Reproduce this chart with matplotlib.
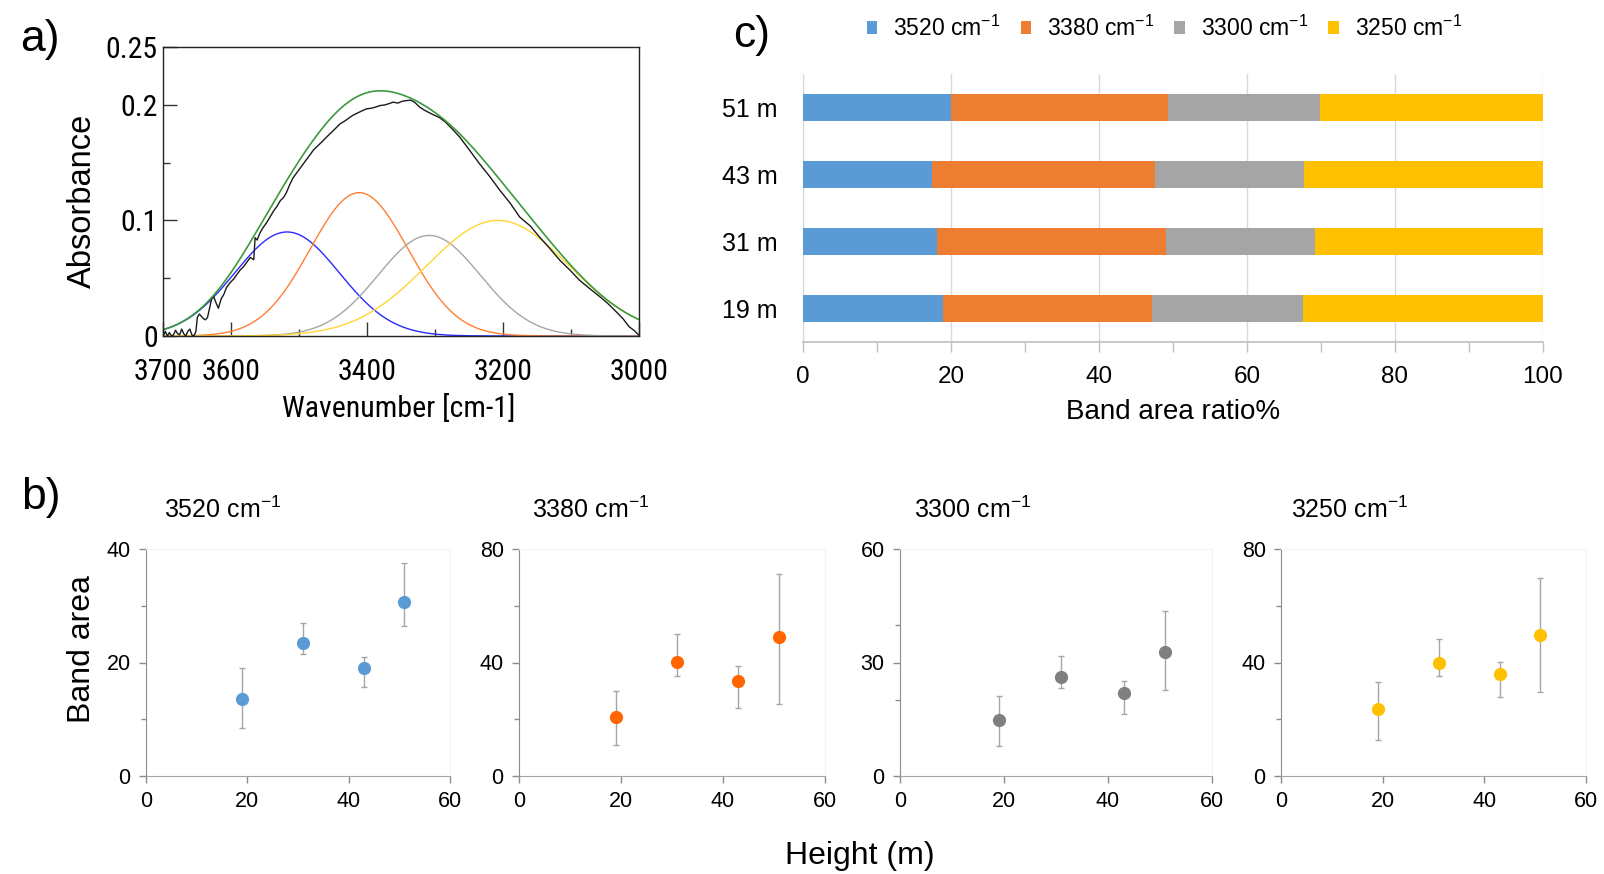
import numpy as np
import matplotlib
matplotlib.use("Agg")
import matplotlib.pyplot as plt
from matplotlib.ticker import FixedLocator
from matplotlib import font_manager

plt.rcParams['font.family'] = ['Liberation Sans', 'DejaVu Sans']
plt.rcParams['mathtext.fontset'] = 'custom'
plt.rcParams['mathtext.rm'] = 'Liberation Sans'
plt.rcParams['mathtext.default'] = 'regular'

# pick a narrow font for panel a if one is installed
_names = {f.name for f in font_manager.fontManager.ttflist}
NARROW, NSTRETCH = ['Liberation Sans'], 'normal'
for cand in ['Liberation Sans Narrow', 'Arial Narrow', 'Roboto Condensed', 'Open Sans Condensed']:
    if cand in _names:
        NARROW, NSTRETCH = [cand], 'normal'
        break
else:
    if any(f.name == 'DejaVu Sans' and str(f.stretch) in ('condensed', 'semi-condensed', '500', '400')
           and 'Condensed' in f.fname for f in font_manager.fontManager.ttflist):
        NARROW, NSTRETCH = ['DejaVu Sans'], 'condensed'

# ---------------- data ----------------
# panel a: measured spectrum (read from picture)
spec_wn = [3700, 3697, 3694, 3691, 3688, 3685, 3682, 3679, 3676, 3673, 3670, 3667, 3664, 3661,
           3658, 3655, 3652, 3650, 3647, 3644, 3641, 3638, 3635, 3632, 3629, 3626, 3622, 3619,
           3615, 3611, 3607, 3602, 3597, 3592, 3587, 3582, 3577, 3572, 3567, 3565, 3562, 3558,
           3553, 3548, 3543, 3538, 3533, 3528, 3523, 3519, 3514, 3509, 3504, 3499, 3494, 3489,
           3484, 3479, 3472, 3465, 3460, 3453, 3446, 3440, 3433, 3426, 3421, 3414, 3407, 3401,
           3394, 3388, 3381, 3375, 3368, 3362, 3355, 3349, 3342, 3336, 3330, 3323, 3315, 3305,
           3294, 3285, 3275, 3264, 3250, 3235, 3220, 3205, 3190, 3176, 3160, 3147, 3132, 3117,
           3102, 3088, 3073, 3058, 3046, 3034, 3024, 3015, 3008, 3001, 3000]
spec_abs = [0.000, 0.004, 0.000, 0.003, 0.000, 0.001, 0.005, 0.002, 0.001, 0.006, 0.002, 0.000,
            0.004, 0.006, 0.001, 0.000, 0.004, 0.016, 0.019, 0.017, 0.015, 0.014, 0.016, 0.024,
            0.032, 0.034, 0.028, 0.024, 0.032, 0.036, 0.042, 0.046, 0.049, 0.053, 0.057, 0.060,
            0.064, 0.068, 0.066, 0.085, 0.083, 0.089, 0.094, 0.098, 0.103, 0.108, 0.112, 0.117,
            0.120, 0.124, 0.131, 0.137, 0.141, 0.145, 0.149, 0.153, 0.157, 0.161, 0.165, 0.169,
            0.172, 0.176, 0.180, 0.1836, 0.186, 0.189, 0.191, 0.193, 0.195, 0.1965, 0.197, 0.198,
            0.1994, 0.1998, 0.2010, 0.2023, 0.2015, 0.2030, 0.2037, 0.2040, 0.2020, 0.1980, 0.1950,
            0.1920, 0.1890, 0.1850, 0.1790, 0.1720, 0.1610, 0.1490, 0.1380, 0.1260, 0.1150, 0.1030,
            0.0950, 0.0858, 0.0760, 0.0656, 0.0570, 0.0483, 0.0410, 0.0340, 0.0280, 0.0210, 0.0150,
            0.0080, 0.0050, 0.0010, 0.0000]
# fitted band parameters (Gaussian components)
band_names = ['3520', '3380', '3300', '3250']
band_center = [3518, 3412, 3309, 3208]
band_height = [0.090, 0.124, 0.087, 0.100]
band_sigma = [77, 72, 75, 105]
band_line_colors = ['#2a2aff', '#ff7f33', '#a6a6a6', '#ffd633']

# panel b: band area vs height
heights = [19, 31, 43, 51]
area_val = {
    '3520': [13.5, 23.4, 19.1, 30.7],
    '3380': [20.7, 40.2, 33.6, 49.1],
    '3300': [14.8, 26.2, 22.0, 32.9],
    '3250': [23.7, 39.9, 35.8, 49.8],
}
area_top = {
    '3520': [19.0, 26.9, 20.9, 37.5],
    '3380': [29.8, 49.9, 38.8, 71.2],
    '3300': [21.1, 31.6, 25.2, 43.6],
    '3250': [33.3, 48.2, 40.3, 69.7],
}
area_bottom = {
    '3520': [8.4, 21.5, 15.7, 26.4],
    '3380': [11.0, 35.3, 24.1, 25.4],
    '3300': [8.0, 23.2, 16.4, 22.8],
    '3250': [12.7, 35.4, 27.7, 29.6],
}
b_ylims = [40, 80, 60, 80]
b_major = [[0, 20, 40], [0, 40, 80], [0, 30, 60], [0, 40, 80]]
b_minor = [[10, 30], [20, 60], [20, 40], [20, 60]]
b_marker_colors = ['#5b9bd5', '#ff6600', '#7f7f7f', '#ffc000']

# panel c: band area ratio
c_categories = ['19 m', '31 m', '43 m', '51 m']
ratio = {
    '3520': [18.9, 18.1, 17.4, 20.0],
    '3380': [28.3, 31.0, 30.2, 29.3],
    '3300': [20.3, 20.1, 20.1, 20.6],
    '3250': [32.5, 30.8, 32.3, 30.1],
}
c_colors = ['#5b9bd5', '#ed7d31', '#a5a5a5', '#ffc000']

# ---------------- figure ----------------
W, H = 1604, 874
fig = plt.figure(figsize=(W / 100, H / 100), dpi=100)


def box(l, t, r, b):
    return [l / W, 1 - b / H, (r - l) / W, (b - t) / H]


# ---- panel a ----
axa = fig.add_axes(box(163.3, 47, 639.3, 336))
wn = np.linspace(3700, 3000, 701)
total = np.zeros_like(wn)
for c, h, s, col in zip(band_center, band_height, band_sigma, band_line_colors):
    comp = h * np.exp(-(wn - c) ** 2 / (2 * s ** 2))
    total += comp
    axa.plot(wn, comp, color=col, lw=1.0)
axa.plot(spec_wn, spec_abs, color='#1a1a1a', lw=1.0)
axa.plot(wn, total, color='#3c9a3c', lw=1.2)
axa.set_xlim(3700, 3000)
axa.set_ylim(0, 0.25)
axa.xaxis.set_major_locator(FixedLocator([3700, 3600, 3400, 3200, 3000]))
axa.xaxis.set_minor_locator(FixedLocator([3500, 3300, 3100]))
axa.yaxis.set_major_locator(FixedLocator([0, 0.1, 0.2, 0.25]))
axa.yaxis.set_minor_locator(FixedLocator([0.05, 0.15]))
axa.set_yticklabels(['0', '0.1', '0.2', '0.25'])
axa.tick_params(which='major', direction='in', length=10, width=1, color='#333333')
axa.tick_params(which='minor', direction='in', length=5, width=1, color='#333333')
axa.tick_params(axis='x', which='both', pad=16)
axa.tick_params(axis='y', which='both', pad=4)
for lab in axa.get_xticklabels() + axa.get_yticklabels():
    lab.set_family(NARROW)
    lab.set_stretch(NSTRETCH)
    lab.set_fontsize(21.5)
for sp in axa.spines.values():
    sp.set_color('#222222')
    sp.set_linewidth(1)
fig.text(399 / W, 1 - 408 / H, 'Wavenumber [cm-1]', family=NARROW, stretch=NSTRETCH,
         fontsize=21.5, ha='center', va='center')
fig.text(82 / W, 1 - 201 / H, 'Absorbance', fontsize=23.5, rotation=90,
         ha='center', va='center')
fig.text(40 / W, 1 - 40 / H, 'a)', fontsize=32, ha='center', va='center')

# ---- panel c ----
axc = fig.add_axes(box(803, 74, 1543, 342))
ypos = np.arange(len(c_categories))
left = np.zeros(len(c_categories))
handles = []
for name, col in zip(band_names, c_colors):
    vals = np.array(ratio[name])
    bc = axc.barh(ypos, vals, left=left, height=0.39, color=col, edgecolor='none',
                  label=name + ' cm$^{-1}$', zorder=3)
    handles.append(bc)
    left += vals
axc.set_xlim(0, 100)
axc.set_ylim(-0.5, 3.5)
axc.set_yticks(ypos)
axc.set_yticklabels(c_categories, fontsize=18)
axc.xaxis.set_major_locator(FixedLocator([0, 20, 40, 60, 80, 100]))
axc.xaxis.set_minor_locator(FixedLocator([10, 30, 50, 70, 90]))
axc.tick_params(axis='y', length=0, pad=18)
axc.tick_params(axis='x', which='both', length=7, width=1, color='#bfbfbf', pad=10,
                labelsize=17.5)
axc.grid(axis='x', which='major', color='#d9d9d9', lw=1, zorder=0)
for s in ['top', 'right']:
    axc.spines[s].set_visible(False)
axc.spines['left'].set_color('#d9d9d9')
axc.spines['bottom'].set_color('#bfbfbf')
axc.spines['bottom'].set_linewidth(1.2)
axc.set_xlabel('Band area ratio%', fontsize=20, labelpad=8)
leg = fig.legend(handles=handles, loc='center', bbox_to_anchor=(1164.5 / W, 1 - 28 / H),
                 ncol=4, frameon=False, fontsize=16.5, handlelength=0.45, handleheight=0.45,
                 handletextpad=0.7, columnspacing=0.87, borderpad=0)
fig.text(752 / W, 1 - 36 / H, 'c)', fontsize=32, ha='center', va='center')

# ---- panel b ----
b_lefts = [(146, 450), (519, 825), (900, 1212), (1281, 1586)]
title_x = [164, 532, 913.5, 1291]
for i, name in enumerate(band_names):
    l, r = b_lefts[i]
    ax = fig.add_axes(box(l, 549, r, 776))
    v = np.array(area_val[name])
    lo = v - np.array(area_bottom[name])
    hi = np.array(area_top[name]) - v
    ax.errorbar(heights, v, yerr=[lo, hi], fmt='none', ecolor='#a6a6a6', elinewidth=1,
                capsize=2.5, capthick=1, zorder=2)
    ax.plot(heights, v, 'o', color=b_marker_colors[i], markersize=9.5, mew=0, zorder=3)
    ax.set_xlim(0, 60)
    ax.set_ylim(0, b_ylims[i])
    ax.xaxis.set_major_locator(FixedLocator([0, 20, 40, 60]))
    ax.yaxis.set_major_locator(FixedLocator(b_major[i]))
    ax.yaxis.set_minor_locator(FixedLocator(b_minor[i]))
    ax.tick_params(which='major', direction='out', length=5, width=1, color='#8c8c8c',
                   labelsize=15.5, pad=6)
    ax.tick_params(which='minor', direction='out', length=3.5, width=1, color='#8c8c8c')
    for s in ['top', 'right']:
        ax.spines[s].set_color('#f2f2f2')
    ax.spines['left'].set_color('#8c8c8c')
    ax.spines['bottom'].set_color('#a6a6a6')
    fig.text(title_x[i] / W, 1 - 510 / H, name + ' cm$^{-1}$', fontsize=18,
             ha='left', va='center')

fig.text(82 / W, 1 - 649 / H, 'Band area', fontsize=23, rotation=90, ha='center', va='center')
fig.text(860 / W, 1 - 856 / H, 'Height (m)', fontsize=23, ha='center', va='center')
fig.text(41 / W, 1 - 498 / H, 'b)', fontsize=32, ha='center', va='center')

fig.savefig('out.png', dpi=100)
